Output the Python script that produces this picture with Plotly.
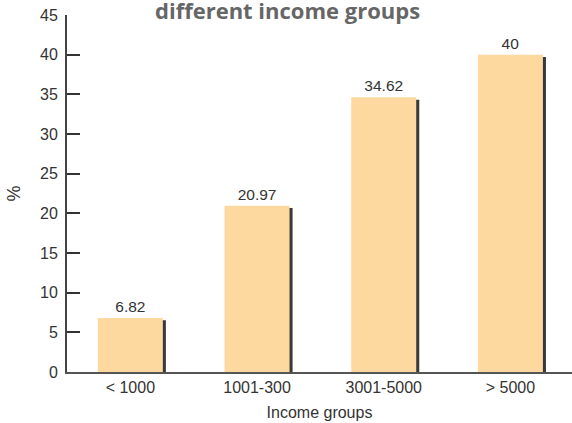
import plotly.graph_objects as go

# Share (%) by monthly income group
groups = ["< 1000", "1001-300", "3001-5000", "> 5000"]
shares = [6.82, 20.97, 34.62, 40]
value_labels = ["6.82", "20.97", "34.62", "40"]

y_ticks = [0, 5, 10, 15, 20, 25, 30, 35, 40, 45]

BAR_W = 0.513
SHADOW_DX = 0.024   # shadow shift to the right (category units)
SHADOW_DY = 0.3     # shadow drop (value units)

fig = go.Figure()

# dark drop shadow behind each bar
fig.add_trace(go.Bar(
    x=groups,
    y=[v - SHADOW_DY for v in shares],
    width=BAR_W,
    offset=-BAR_W / 2 + SHADOW_DX,
    marker=dict(color="#3a3838", line=dict(width=0)),
    hoverinfo="skip",
    showlegend=False,
))

# main bars with value labels
fig.add_trace(go.Bar(
    x=groups,
    y=shares,
    width=BAR_W,
    offset=-BAR_W / 2,
    marker=dict(color="#fed99f", line=dict(width=0)),
    text=value_labels,
    textposition="outside",
    textfont=dict(family="Liberation Sans, Arial, sans-serif", size=15.5, color="#333333"),
    cliponaxis=False,
    showlegend=False,
))

fig.update_layout(
    barmode="overlay",
    width=572,
    height=423,
    margin=dict(l=67, r=0, t=15, b=51),
    paper_bgcolor="white",
    plot_bgcolor="white",
    font=dict(family="Liberation Sans, Arial, sans-serif", size=16, color="#333333"),
    xaxis=dict(
        range=[-0.5, 3.486],
        showgrid=False,
        showline=True,
        linecolor="#555555",
        linewidth=2,
        ticks="",
        tickfont=dict(size=16, color="#333333"),
        title=dict(text="Income groups", font=dict(size=16, color="#333333"), standoff=12),
        automargin=False,
    ),
    yaxis=dict(
        range=[0, 45],
        tickvals=y_ticks,
        showgrid=False,
        zeroline=False,
        showline=True,
        linecolor="#444444",
        linewidth=2,
        ticks="inside",
        ticklen=13,
        tickwidth=2,
        tickcolor="#333333",
        tickfont=dict(size=16, color="#333333"),
        ticklabelstandoff=4,
        title=dict(text="%", font=dict(size=18, color="#333333"), standoff=15),
        automargin=False,
    ),
    annotations=[dict(
        text="different income groups",
        xref="paper", yref="paper",
        x=(287 - 67) / 505, y=1.0,
        xanchor="center", yanchor="bottom",
        yshift=-12,
        showarrow=False,
        font=dict(family="Open Sans, sans-serif", size=22, color="#666666", weight="bold"),
    )],
)

fig.write_html("out.html")
